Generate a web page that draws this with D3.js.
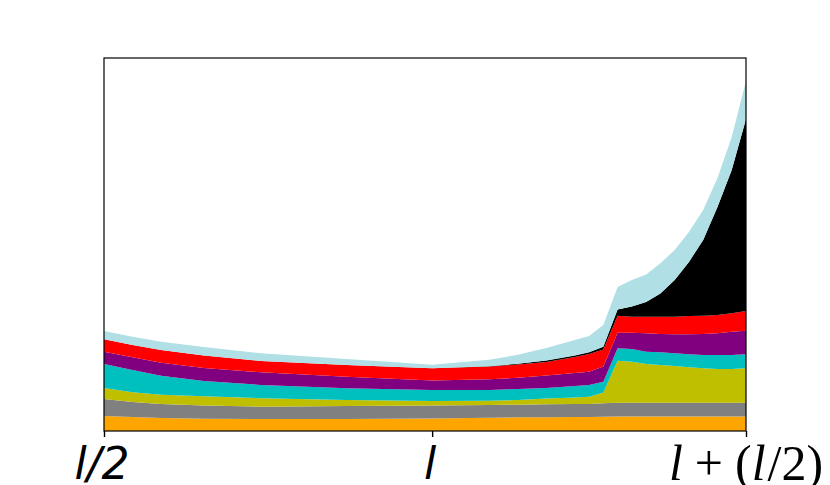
<html>
<head>
<script src="https://d3js.org/d3.v7.min.js"></script>
<style>
  body { margin: 0; background: #fff; }
</style>
</head>
<body>
<svg width="830" height="485"></svg>
<script>
// sample positions along the x axis (index of the run, 0 = l/2, 23 = l, 45 = l + l/2)
var xIdx = [0, 2, 4, 7, 11, 17, 23, 27, 29, 31, 33, 34, 35, 36, 37, 38, 39, 40, 41, 42, 43, 44, 45];

// layer values, bottom to top
var orange = [4.02, 3.75, 3.49, 3.30, 3.22, 3.22, 3.35, 3.57, 3.67, 3.67, 3.75, 3.75, 3.81, 3.89, 3.89, 3.89, 3.89, 3.89, 3.89, 3.89, 3.89, 3.89, 3.89];
var gray   = [4.56, 4.02, 3.75, 3.57, 3.30, 3.49, 3.49, 3.40, 3.38, 3.49, 3.49, 3.49, 3.62, 3.70, 3.70, 3.70, 3.70, 3.70, 3.70, 3.70, 3.70, 3.70, 3.70];
var olive  = [2.95, 2.60, 2.49, 2.47, 2.28, 1.61, 1.21, 1.15, 1.26, 1.53, 1.74, 1.96, 2.90, 11.26, 10.99, 10.38, 10.11, 9.84, 9.49, 9.22, 9.03, 9.03, 9.22];
var cyan   = [6.43, 5.98, 5.09, 4.08, 3.54, 3.14, 2.95, 2.87, 2.95, 2.84, 3.08, 3.14, 2.90, 3.32, 3.40, 3.30, 3.40, 3.40, 3.49, 3.57, 3.75, 3.75, 3.75];
var purple = [3.30, 3.40, 3.49, 3.49, 3.38, 3.11, 2.55, 2.87, 3.00, 3.32, 3.49, 3.57, 4.05, 4.18, 4.37, 4.93, 4.91, 5.09, 5.36, 5.63, 5.82, 6.25, 6.33];
var red    = [3.32, 3.30, 3.40, 3.35, 3.06, 3.14, 3.27, 3.40, 3.57, 3.65, 4.29, 4.75, 4.58, 4.56, 4.29, 4.45, 4.64, 4.72, 4.91, 4.91, 4.91, 4.93, 5.28];
var black  = [0, 0, 0, 0, 0, 0, 0, 0.11, 0.19, 0.40, 0.40, 0.46, 0.75, 1.66, 2.73, 3.94, 6.22, 9.84, 14.48, 20.29, 28.95, 38.42, 51.47];
var lblue  = [2.23, 2.23, 2.23, 2.23, 2.06, 1.61, 0.94, 1.72, 2.41, 3.35, 4.16, 4.37, 5.82, 6.03, 7.10, 7.37, 8.10, 8.04, 8.04, 8.04, 7.77, 8.85, 10.19];

var tickIdx = [0, 23, 45];
var tickLabels = ['l/2', 'l', 'l + (l/2)'];

var keys = ['orange', 'gray', 'olive', 'cyan', 'purple', 'red', 'black', 'lblue'];
var colors = ['#FFA500', '#808080', '#BFBF00', '#00BFBF', '#800080', '#FF0000', '#000000', '#B0DFE5'];
var series = [orange, gray, olive, cyan, purple, red, black, lblue];

var plotLeft = 104, plotRight = 746, plotTop = 58, plotBottom = 431;

var rows = xIdx.map(function (v, i) {
    var r = { x: v };
    keys.forEach(function (k, j) { r[k] = series[j][i]; });
    return r;
});

var x = d3.scaleLinear().domain([0, 45]).range([plotLeft, plotRight]);
var y = d3.scaleLinear().domain([0, 100]).range([plotBottom, plotTop]);

var svg = d3.select('svg');

var stacked = d3.stack().keys(keys)(rows);

var area = d3.area()
    .x(function (d) { return x(d.data.x); })
    .y0(function (d) { return y(d[0]); })
    .y1(function (d) { return y(d[1]); });

svg.append('g')
    .selectAll('path')
    .data(stacked)
    .enter()
    .append('path')
    .attr('d', area)
    .style('fill', function (d, i) { return colors[i]; });

// frame
svg.append('rect')
    .attr('x', plotLeft)
    .attr('y', plotTop)
    .attr('width', plotRight - plotLeft)
    .attr('height', plotBottom - plotTop)
    .style('fill', 'none')
    .style('stroke', 'black')
    .style('stroke-width', 1.2);

// x axis ticks
var axis = svg.append('g')
    .attr('transform', 'translate(0,' + plotBottom + ')')
    .call(d3.axisBottom(x).tickValues(tickIdx).tickSize(6).tickFormat(''));
axis.select('.domain').remove();
axis.selectAll('.tick line').style('stroke', 'black').style('stroke-width', 1.4);

var labels = svg.append('g');
labels.selectAll('text')
    .data(tickIdx.slice(0, 2))
    .enter()
    .append('text')
    .attr('x', function (d) { return x(d) - 2; })
    .attr('y', 479)
    .attr('text-anchor', 'middle')
    .style('font-family', 'DejaVu Sans')
    .style('font-style', 'oblique')
    .style('font-size', '44px')
    .style('fill', 'black')
    .text(function (d, i) { return tickLabels[i]; });

// math-style label for the last tick
var last = labels.append('text')
    .attr('x', x(tickIdx[2]))
    .attr('y', 480)
    .attr('text-anchor', 'middle')
    .style('font-family', 'Liberation Serif')
    .style('font-size', '50px')
    .style('fill', 'black');
last.append('tspan').style('font-style', 'italic').text('l');
last.append('tspan').attr('dx', 12).text('+');
last.append('tspan').attr('dx', 12).text('(');
last.append('tspan').style('font-style', 'italic').text('l');
last.append('tspan').attr('dx', 2).text('/2)');
</script>
</body>
</html>
